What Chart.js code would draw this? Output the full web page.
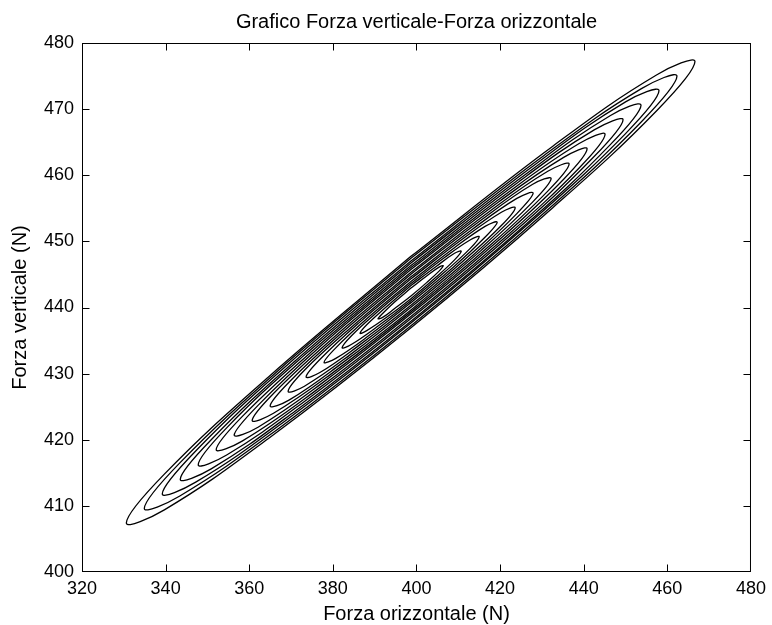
<!DOCTYPE html>
<html>
<head>
<meta charset="utf-8">
<script src="https://cdn.jsdelivr.net/npm/chart.js@4/dist/chart.umd.min.js"></script>
<style>
  html, body { margin: 0; padding: 0; background: #fff; }
  #chart { display: block; }
</style>
</head>
<body>
<canvas id="chart" width="772" height="625"></canvas>
<script>
// Axis ticks
const xTickValues = [320, 340, 360, 380, 400, 420, 440, 460, 480];
const yTickValues = [400, 410, 420, 430, 440, 450, 460, 470, 480];

// Nested loops, outer to inner
const loopX = [
  [398.6, 364.6, 339.7, 330.6, 339.7, 364.6, 398.6, 432.6, 457.5, 466.6, 457.5, 432.6, 398.6],
  [398.6, 366.8, 343.4, 334.9, 343.4, 366.8, 398.6, 430.5, 453.8, 462.3, 453.8, 430.5, 398.6],
  [398.6, 368.9, 347.2, 339.2, 347.2, 368.9, 398.6, 428.3, 450.0, 458.0, 450.0, 428.3, 398.6],
  [398.6, 371.1, 350.9, 343.5, 350.9, 371.1, 398.6, 426.2, 446.3, 453.7, 446.3, 426.2, 398.6],
  [398.6, 373.2, 354.6, 347.8, 354.6, 373.2, 398.6, 424.0, 442.6, 449.4, 442.6, 424.0, 398.6],
  [398.6, 375.4, 358.3, 352.1, 358.3, 375.4, 398.6, 421.9, 438.9, 445.1, 438.9, 421.9, 398.6],
  [398.6, 377.5, 362.1, 356.4, 362.1, 377.5, 398.6, 419.7, 435.2, 440.8, 435.2, 419.7, 398.6],
  [398.6, 379.7, 365.8, 360.7, 365.8, 379.7, 398.6, 417.6, 431.4, 436.5, 431.4, 417.6, 398.6],
  [398.6, 381.8, 369.5, 365.0, 369.5, 381.8, 398.6, 415.4, 427.7, 432.2, 427.7, 415.4, 398.6],
  [398.6, 384.0, 373.2, 369.3, 373.2, 384.0, 398.6, 413.3, 424.0, 427.9, 424.0, 413.3, 398.6],
  [398.6, 386.1, 377.0, 373.6, 377.0, 386.1, 398.6, 411.1, 420.3, 423.6, 420.3, 411.1, 398.6],
  [398.6, 388.3, 380.7, 377.9, 380.7, 388.3, 398.6, 409.0, 416.5, 419.3, 416.5, 409.0, 398.6],
  [398.6, 390.4, 384.4, 382.2, 384.4, 390.4, 398.6, 406.8, 412.8, 415.0, 412.8, 406.8, 398.6],
  [398.6, 392.6, 388.1, 386.5, 388.1, 392.6, 398.6, 404.7, 409.1, 410.7, 409.1, 404.7, 398.6],
  [398.6, 394.7, 391.9, 390.8, 391.9, 394.7, 398.6, 402.5, 405.4, 406.4, 405.4, 402.5, 398.6]
];
const loopY = [
  [447.7, 429.5, 414.8, 407.4, 409.4, 420.2, 436.9, 455.1, 469.8, 477.2, 475.2, 464.4, 447.7],
  [447.4, 430.4, 416.5, 409.6, 411.5, 421.6, 437.2, 454.3, 468.1, 475.0, 473.1, 463.0, 447.4],
  [447.0, 431.2, 418.3, 411.8, 413.6, 423.0, 437.6, 453.5, 466.3, 472.8, 471.1, 461.6, 447.0],
  [446.7, 432.0, 420.0, 414.0, 415.6, 424.4, 437.9, 452.6, 464.6, 470.6, 469.0, 460.2, 446.7],
  [446.3, 432.8, 421.8, 416.2, 417.7, 425.8, 438.3, 451.8, 462.9, 468.4, 466.9, 458.8, 446.3],
  [446.0, 433.6, 423.5, 418.5, 419.8, 427.2, 438.6, 451.0, 461.1, 466.2, 464.8, 457.4, 446.0],
  [445.7, 434.4, 425.2, 420.7, 421.9, 428.6, 439.0, 450.2, 459.4, 464.0, 462.7, 456.0, 445.7],
  [445.3, 435.2, 427.0, 422.9, 424.0, 430.0, 439.3, 449.4, 457.6, 461.7, 460.6, 454.6, 445.3],
  [445.0, 436.0, 428.7, 425.1, 426.0, 431.4, 439.6, 448.6, 455.9, 459.5, 458.6, 453.2, 445.0],
  [444.6, 436.8, 430.5, 427.3, 428.1, 432.8, 440.0, 447.8, 454.2, 457.3, 456.5, 451.8, 444.6],
  [444.3, 437.6, 432.2, 429.5, 430.2, 434.2, 440.3, 447.0, 452.4, 455.1, 454.4, 450.4, 444.3],
  [443.9, 438.4, 433.9, 431.7, 432.3, 435.6, 440.7, 446.2, 450.7, 452.9, 452.3, 449.0, 443.9],
  [443.6, 439.2, 435.7, 433.9, 434.4, 437.0, 441.0, 445.4, 448.9, 450.7, 450.2, 447.6, 443.6],
  [443.3, 440.0, 437.4, 436.1, 436.5, 438.4, 441.3, 444.6, 447.2, 448.5, 448.2, 446.2, 443.3],
  [442.9, 440.8, 439.1, 438.3, 438.5, 439.8, 441.7, 443.8, 445.5, 446.3, 446.1, 444.8, 442.9]
];

const FONT = '"Liberation Sans", Arial, Helvetica, sans-serif';

const datasets = loopX.map((xs, k) => ({
    data: xs.map((x, i) => ({ x: x, y: loopY[k][i] })),
    showLine: true,
    borderColor: '#000',
    borderWidth: 1.3,
    pointRadius: 0,
    tension: 0.4,
    fill: false
}));

// MATLAB-style frame with inward ticks on all four sides
const boxPlugin = {
    id: 'boxPlugin',
    afterDraw(chart) {
        const { ctx, chartArea: a, scales } = chart;
        const L = a.left + 0.5, R = a.right - 0.5, T = a.top + 0.5, B = a.bottom - 0.5;
        const tick = 7;
        ctx.save();
        ctx.strokeStyle = '#000';
        ctx.lineWidth = 1;
        ctx.strokeRect(L, T, R - L, B - T);
        ctx.beginPath();
        xTickValues.slice(1, -1).forEach(v => {
            const px = Math.round(scales.x.getPixelForValue(v)) + 0.5;
            ctx.moveTo(px, B); ctx.lineTo(px, B - tick);
            ctx.moveTo(px, T); ctx.lineTo(px, T + tick);
        });
        yTickValues.slice(1, -1).forEach(v => {
            const py = Math.round(scales.y.getPixelForValue(v)) + 0.5;
            ctx.moveTo(L, py); ctx.lineTo(L + tick, py);
            ctx.moveTo(R, py); ctx.lineTo(R - tick, py);
        });
        ctx.stroke();
        ctx.restore();
    }
};

new Chart(document.getElementById('chart'), {
    type: 'scatter',
    data: { datasets: datasets },
    options: {
        responsive: false,
        animation: false,
        devicePixelRatio: 1,
        layout: { padding: { left: 0, right: 19, top: 0, bottom: 0 } },
        plugins: {
            legend: { display: false },
            tooltip: { enabled: false },
            title: {
                display: true,
                text: 'Grafico Forza verticale-Forza orizzontale',
                color: '#000',
                fullSize: false,
                font: { family: FONT, size: 20, weight: 'normal', lineHeight: 1 },
                padding: { top: 12, bottom: 11 }
            }
        },
        scales: {
            x: {
                type: 'linear',
                min: 320,
                max: 480,
                afterBuildTicks: s => { s.ticks = xTickValues.map(v => ({ value: v })); },
                afterFit: s => { s.height = 53; },
                grid: { display: false, drawTicks: false },
                border: { display: false },
                ticks: { color: '#000', padding: 6, maxRotation: 0, autoSkip: false,
                         font: { family: FONT, size: 18 } },
                title: {
                    display: true,
                    text: 'Forza orizzontale (N)',
                    color: '#000',
                    font: { family: FONT, size: 20, lineHeight: 1 },
                    padding: { top: 0, bottom: 1 }
                }
            },
            y: {
                type: 'linear',
                min: 400,
                max: 480,
                afterBuildTicks: s => { s.ticks = yTickValues.map(v => ({ value: v })); },
                afterFit: s => { s.width = 82; },
                grid: { display: false, drawTicks: false },
                border: { display: false },
                ticks: { color: '#000', padding: 8, autoSkip: false,
                         font: { family: FONT, size: 18 } },
                title: {
                    display: true,
                    text: 'Forza verticale (N)',
                    color: '#000',
                    font: { family: FONT, size: 20, lineHeight: 1 },
                    padding: { top: 10.5, bottom: 0 }
                }
            }
        }
    },
    plugins: [boxPlugin]
});
</script>
</body>
</html>
